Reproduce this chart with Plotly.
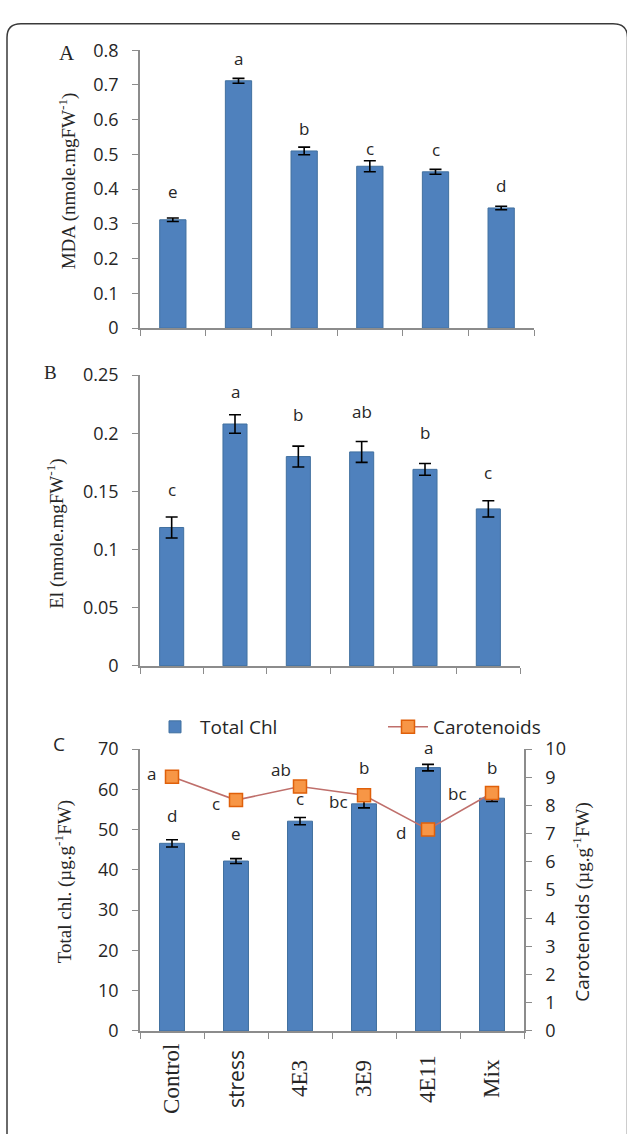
import plotly.graph_objects as go

# ---------------- data ----------------
categories = ["Control", "stress", "4E3", "3E9", "4E11", "Mix"]

mda = [0.312, 0.712, 0.510, 0.466, 0.450, 0.346]
mda_err = [0.005, 0.007, 0.011, 0.016, 0.007, 0.005]
mda_letters = ["e", "a", "b", "c", "c", "d"]

el = [0.119, 0.208, 0.180, 0.184, 0.169, 0.135]
el_err = [0.009, 0.008, 0.009, 0.009, 0.005, 0.007]
el_letters = ["c", "a", "b", "ab", "b", "c"]

total_chl = [46.6, 42.2, 52.1, 56.4, 65.4, 57.8]
total_chl_err = [0.9, 0.6, 0.9, 1.0, 0.8, 0.8]
chl_letters = ["d", "e", "c", "b", "a", "b"]

carotenoids = [9.02, 8.19, 8.67, 8.36, 7.15, 8.44]
car_letters = ["a", "c", "ab", "bc", "d", "bc"]

# ---------------- layout helpers (pixel -> paper) ----------------
W, H = 627, 1134
def px(x):
    return x / W
def py(y):
    return 1 - y / H

BLUE = "#4F81BD"
BLUE_EDGE = "#41709F"
AXIS = "#8C8C8C"
TXT = "#262626"
SANS = "Open Sans, Liberation Sans, sans-serif"
SERIF = "Liberation Serif, DejaVu Serif, serif"

idx = list(range(len(categories)))

fig = go.Figure()

err_style = dict(type="data", color="black", thickness=1.6, width=6)

fig.add_trace(go.Bar(x=categories, y=mda, error_y=dict(array=mda_err, **err_style),
                     marker=dict(color=BLUE, line=dict(color=BLUE_EDGE, width=1)),
                     width=0.4, xaxis="x", yaxis="y", showlegend=False, name="MDA"))
fig.add_trace(go.Bar(x=categories, y=el, error_y=dict(array=el_err, **err_style),
                     marker=dict(color=BLUE, line=dict(color=BLUE_EDGE, width=1)),
                     width=0.38, xaxis="x2", yaxis="y2", showlegend=False, name="El"))
fig.add_trace(go.Bar(x=categories, y=total_chl, error_y=dict(array=total_chl_err, **err_style),
                     marker=dict(color=BLUE, line=dict(color=BLUE_EDGE, width=1)),
                     width=0.39, xaxis="x3", yaxis="y3", showlegend=True, name="Total Chl"))
fig.add_trace(go.Scatter(x=categories, y=carotenoids, mode="lines+markers",
                         line=dict(color="#BF6F6B", width=1.6),
                         marker=dict(symbol="square", size=13, color="#F79646",
                                     line=dict(color="#E0600A", width=1.5)),
                         xaxis="x3", yaxis="y4", showlegend=True, name="Carotenoids"))

xcommon = dict(type="category", categoryorder="array", categoryarray=categories,
               range=[-0.5, 5.5], showline=True, linecolor=AXIS, linewidth=1.5,
               ticks="outside", ticklen=6, tickcolor=AXIS, tickwidth=1.2,
               tickson="boundaries", showticklabels=False, showgrid=False, zeroline=False)
ycommon = dict(showline=True, linecolor=AXIS, linewidth=1.5, ticks="outside", ticklen=6,
               tickcolor=AXIS, tickwidth=1.2, showgrid=False, zeroline=False,
               tickfont=dict(family=SANS, size=18, color=TXT), ticklabelstandoff=10)

fig.update_layout(
    width=W, height=H, margin=dict(l=0, r=0, t=0, b=0),
    paper_bgcolor="white", plot_bgcolor="white",
    font=dict(family=SANS, color=TXT),
    xaxis=dict(domain=[px(140), px(534)], anchor="y", **xcommon),
    yaxis=dict(domain=[py(322), py(38)], anchor="x", range=[0, 0.8], dtick=0.1, **ycommon),
    xaxis2=dict(domain=[px(140), px(520)], anchor="y2", **xcommon),
    yaxis2=dict(domain=[py(667), py(370)], anchor="x2", range=[0, 0.25], dtick=0.05, **ycommon),
    xaxis3=dict(domain=[px(140), px(524)], anchor="y3", **xcommon),
    yaxis3=dict(domain=[py(1040), py(752)], anchor="x3", range=[0, 70], dtick=10, **ycommon),
    yaxis4=dict(overlaying="y3", side="right", anchor="x3", range=[0, 10], dtick=1, **ycommon),
    bargap=0.6,
    legend=dict(orientation="h", x=px(150), y=py(710), xanchor="left", yanchor="top",
                font=dict(family=SANS, size=19, color=TXT), itemwidth=40,
                entrywidth=178, entrywidthmode="pixels",
                bgcolor="rgba(0,0,0,0)", traceorder="normal"),
)

ann = []
# panel letters
ann.append(dict(text="A", x=px(67), y=py(41), xref="paper", yref="paper",
                xanchor="center", yanchor="middle",
                font=dict(family=SERIF, size=21, color=TXT), showarrow=False))
ann.append(dict(text="B", x=px(50), y=py(367), xref="paper", yref="paper",
                xanchor="center", yanchor="middle",
                font=dict(family=SERIF, size=19, color=TXT), showarrow=False))
ann.append(dict(text="C", x=px(59), y=py(747), xref="paper", yref="paper",
                xanchor="center", yanchor="middle",
                font=dict(family=SANS, size=19, color=TXT), showarrow=False))

# axis titles (rotated)
titles = [
    ("MDA (nmole.mgFW<sup>-1</sup>)", 67, 172, SERIF),
    ("El (nmole.mgFW<sup>-1</sup>)", 56, 532, SERIF),
    ("Total chl. (µg.g<sup>-1</sup>FW)", 63, 888, SERIF),
    ("Carotenoids <span style=\"font-family:'Liberation Serif'\">(µg.g<sup>-1</sup>FW)</span>", 582, 908, SANS),
]
for t, tx, ty, fam in titles:
    ann.append(dict(text=t, x=px(tx), y=py(ty), xref="paper", yref="paper",
                    xanchor="center", yanchor="middle", textangle=-90,
                    font=dict(family=fam, size=19, color=TXT), showarrow=False))

# significance letters
shift_a = [27, 20, 19, 12, 20, 21]
shift_b = [28, 23, 32, 30, 31, 28]
shift_c = [24, 25, 19, 32, 17, 27]
car_dx = [-14, -14, -7, -14, -20, -23]
car_dy = [3, -3, 17, -6, -3, 0]
lf = dict(family=SANS, size=17, color=TXT)
for i in idx:
    c = categories[i]
    ann.append(dict(text=mda_letters[i], x=i, y=mda[i] + mda_err[i], xref="x", yref="y",
                    yshift=shift_a[i], xanchor="center", yanchor="middle", showarrow=False, font=lf))
    ann.append(dict(text=el_letters[i], x=i, y=el[i] + el_err[i], xref="x2", yref="y2",
                    yshift=shift_b[i], xanchor="center", yanchor="middle", showarrow=False, font=lf))
    ann.append(dict(text=chl_letters[i], x=i, y=total_chl[i] + total_chl_err[i], xref="x3", yref="y3",
                    yshift=shift_c[i], xanchor="center", yanchor="middle", showarrow=False, font=lf))
    ann.append(dict(text=car_letters[i], x=i, y=carotenoids[i], xref="x3", yref="y4",
                    xshift=car_dx[i], yshift=car_dy[i], xanchor="right", yanchor="middle",
                    showarrow=False, font=lf))
    # rotated category labels under panel C
    ann.append(dict(text=c, x=i, y=py(1089), xref="x3", yref="paper", textangle=-90,
                    xanchor="center", yanchor="middle", showarrow=False,
                    font=dict(family=SANS if c == "stress" else SERIF,
                              size=21 if c == "stress" else 23, color=TXT)))
fig.update_layout(annotations=ann)

# outer rounded frame
frame = (f"M {px(7)},{py(1150)} L {px(7)},{py(25)} Q {px(7)},{py(11)} {px(21)},{py(11)} "
         f"L {px(613)},{py(11)} Q {px(627.5)},{py(11)} {px(627.5)},{py(25)} L {px(627.5)},{py(1150)}")
fig.add_shape(type="path", path=frame, xref="paper", yref="paper",
              line=dict(color="#3A3A3A", width=1.5))

fig.write_html("out.html", config={"displayModeBar": False},
               post_script="document.body.style.margin='0';")
